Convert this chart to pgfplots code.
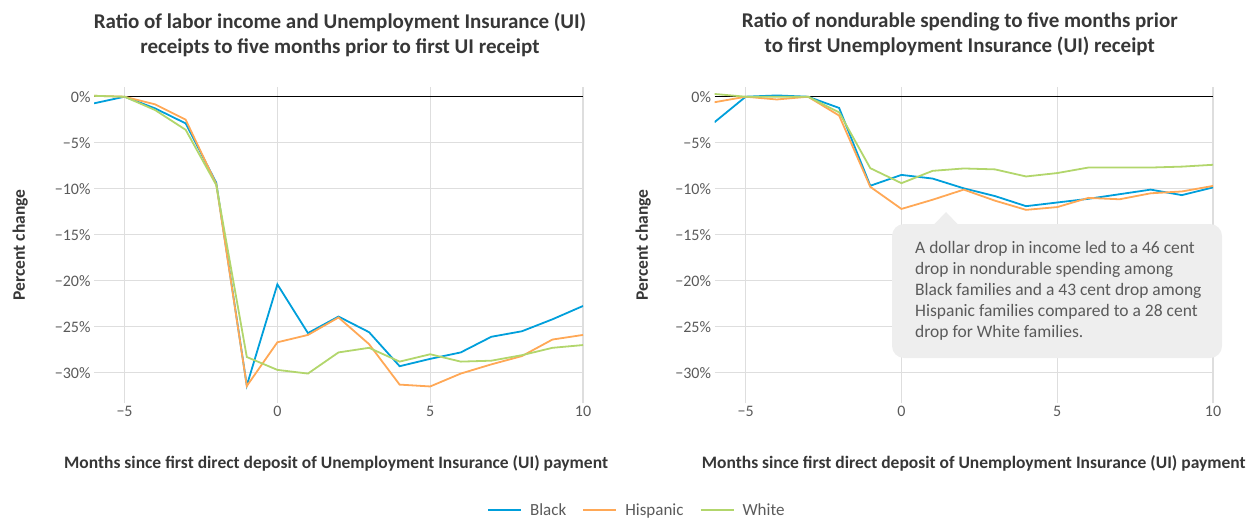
\documentclass[border=0pt]{standalone}
\usepackage{pgfplots}
\pgfplotsset{compat=1.18}
\usepackage{pgfplotstable}
\usepackage{fontspec}
\setmainfont{Carlito}

\definecolor{cBlack}{RGB}{0,159,219}
\definecolor{cHisp}{RGB}{255,168,86}
\definecolor{cWhite}{RGB}{178,214,108}
\definecolor{gridc}{RGB}{222,222,222}
\definecolor{txt}{RGB}{90,90,90}
\definecolor{ttl}{RGB}{55,55,55}
\definecolor{boxc}{RGB}{238,238,238}

% labor income + UI, percent change vs. month -5
\pgfplotstableread{
x  black  hisp   white
-6 -0.72  0.1    0.1
-5  0.0   0.0    0.0
-4 -1.27 -0.83  -1.45
-3 -2.9  -2.5   -3.6
-2 -9.35 -9.5   -9.6
-1 -31.4 -31.45 -28.3
 0 -20.4 -26.7  -29.7
 1 -25.7 -25.9  -30.1
 2 -23.9 -24.0  -27.8
 3 -25.6 -26.9  -27.3
 4 -29.3 -31.3  -28.8
 5 -28.5 -31.5  -28.0
 6 -27.8 -30.1  -28.8
 7 -26.1 -29.1  -28.7
 8 -25.5 -28.2  -28.1
 9 -24.2 -26.4  -27.3
10 -22.75 -25.9 -27.0
}\incomedata

% nondurable spending, percent change vs. month -5
\pgfplotstableread{
x  black  hisp   white
-6 -2.77 -0.6    0.3
-5  0.0   0.0    0.0
-4  0.14 -0.3    0.0
-3  0.0   0.0    0.0
-2 -1.22 -2.05  -1.7
-1 -9.68 -9.8   -7.77
 0 -8.5  -12.2  -9.4
 1 -8.9  -11.2  -8.06
 2 -9.96 -10.1  -7.8
 3 -10.8 -11.3  -7.9
 4 -11.9 -12.3  -8.67
 5 -11.5 -12.0  -8.3
 6 -11.1 -11.0  -7.7
 7 -10.6 -11.15 -7.7
 8 -10.1 -10.5  -7.7
 9 -10.7 -10.3  -7.6
10 -9.86 -9.7   -7.4
}\spenddata

\pgfplotsset{
  panel/.style={
    scale only axis, height=316.4pt,
    xmin=-6, xmax=10, ymin=-33.3, ymax=1.1,
    axis line style={draw=none},
    major tick length=0pt,
    grid=major, grid style={gridc, line width=1.3pt},
    xtick={-5,0,5,10},
    xticklabels={−5,0,5,10},
    ytick={-30,-25,-20,-15,-10,-5,0},
    yticklabels={−30\%,−25\%,−20\%,−15\%,−10\%,−5\%,0\%},
    tick label style={font=\fontsize{16}{19}\selectfont, text=txt},
    ylabel={Percent change},
    ylabel style={font=\bfseries\fontsize{17.5}{20}\selectfont, text=ttl, anchor=center},
    xlabel style={font=\bfseries\fontsize{17.5}{20}\selectfont, text=ttl, anchor=center},
    title style={font=\bfseries\fontsize{21}{25}\selectfont, text=ttl, align=center, anchor=center},
    every axis plot/.append style={line width=1.8pt, mark=none},
  },
}

\begin{document}
\begin{tikzpicture}
\useasboundingbox (0,0) rectangle (1257pt,-519pt);

\begin{axis}[panel, at={(94pt,-403pt)}, anchor=south west, width=489pt,
  title={Ratio of labor income and Unemployment Insurance (UI)\\receipts to five months prior to first UI receipt},
  title style={at={(axis description cs:0.503,1.146)}},
  xlabel={Months since first direct deposit of Unemployment Insurance (UI) payment},
  xlabel style={at={(axis description cs:0.495,-0.19)}},
  ylabel style={at={(axis description cs:-0.151,0.5)}},
  legend columns=3,
  legend style={draw=none, fill=none, at={(axis description cs:1.110,-0.338)}, anchor=center,
    font=\fontsize{17}{20}\selectfont, text=txt,
    /tikz/every odd column/.append style={column sep=6pt},
    /tikz/every even column/.append style={column sep=14pt}},
  legend image code/.code={\draw[#1, line width=2pt] (0pt,0pt) -- (33pt,0pt);},
]
\addplot[black, line width=1pt, forget plot] coordinates {(-6,0) (10,0)};
\addplot[cBlack] table[x=x, y=black] {\incomedata};
\addlegendentry{Black}
\addplot[cHisp] table[x=x, y=hisp] {\incomedata};
\addlegendentry{Hispanic}
\addplot[cWhite] table[x=x, y=white] {\incomedata};
\addlegendentry{White}
\end{axis}

\begin{axis}[panel, at={(714.5pt,-403pt)}, anchor=south west, width=498.5pt,
  title={Ratio of nondurable spending to five months prior\\to first Unemployment Insurance (UI) receipt},
  title style={at={(axis description cs:0.492,1.146)}},
  xlabel={Months since first direct deposit of Unemployment Insurance (UI) payment},
  xlabel style={at={(axis description cs:0.52,-0.19)}},
  ylabel style={at={(axis description cs:-0.143,0.5)}},
]
\addplot[black, line width=1pt] coordinates {(-6,0) (10,0)};
\addplot[cBlack] table[x=x, y=black] {\spenddata};
\addplot[cHisp] table[x=x, y=hisp] {\spenddata};
\addplot[cWhite] table[x=x, y=white] {\spenddata};
\end{axis}

% callout
\fill[boxc, rounded corners=12pt] (892pt,-224pt) rectangle (1222pt,-358pt);
\fill[boxc] (934pt,-224.5pt) -- (946pt,-212pt) -- (958pt,-224.5pt) -- cycle;
\node[anchor=north west, align=left, inner sep=0pt, text=txt,
  font=\fontsize{17.5}{21}\selectfont] at (915pt,-241pt)
  {A dollar drop in income led to a 46 cent\\drop in nondurable spending among\\Black families and a 43 cent drop among\\Hispanic families compared to a 28 cent\\drop for White families.};
\end{tikzpicture}
\end{document}
